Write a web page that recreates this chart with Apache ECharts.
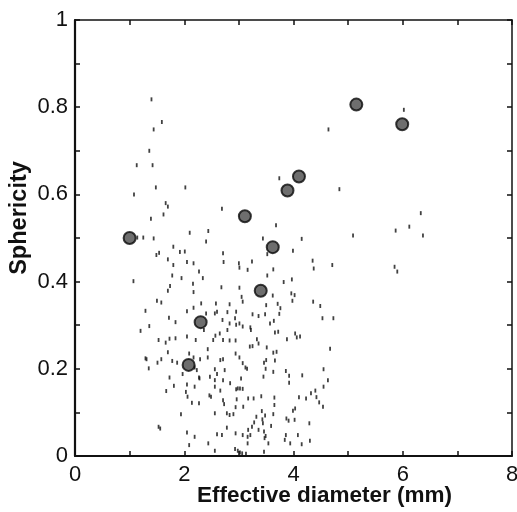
<!DOCTYPE html>
<html>
<head>
<meta charset="utf-8">
<script src="https://cdn.jsdelivr.net/npm/echarts@6/dist/echarts.min.js"></script>
<style>html,body{margin:0;padding:0;background:#fff}#c{width:517px;height:512px}</style>
</head>
<body>
<div id="c"></div>
<script>
var xTicks = [0, 2, 4, 6, 8];
var yTicks = [0, 0.2, 0.4, 0.6, 0.8, 1];
var xTitle = 'Effective diameter (mm)';
var yTitle = 'Sphericity';

var sphereX = [1.00, 2.08, 2.30, 3.11, 3.40, 3.62, 3.89, 4.10, 5.15, 5.99];
var sphereY = [0.50, 0.209, 0.307, 0.550, 0.379, 0.479, 0.609, 0.641, 0.806, 0.761];

var dashPairs = [
[1.40,0.818],[1.59,0.766],[1.44,0.749],[1.36,0.700],[1.42,0.667],[1.13,0.667],[1.08,0.600],[2.02,0.616],
[1.48,0.616],[1.66,0.580],[1.70,0.572],[1.62,0.554],[1.39,0.544],[2.69,0.567],[2.10,0.512],[2.44,0.516],
[2.40,0.492],[1.14,0.501],[1.25,0.501],[1.44,0.499],[3.74,0.637],[3.68,0.529],[3.44,0.499],[4.64,0.749],
[4.84,0.612],[5.09,0.506],[5.87,0.517],[6.12,0.526],[6.33,0.557],[6.37,0.506],[5.85,0.434],[5.90,0.423],
[6.02,0.794],[4.71,0.438],[3.99,0.471],[4.15,0.498],[4.35,0.448],[4.37,0.430],[3.97,0.405],[3.82,0.399],
[3.63,0.428],[3.52,0.414],[3.52,0.463],[1.07,0.401],[1.80,0.480],[1.54,0.466],[1.49,0.461],[1.92,0.468],
[2.01,0.469],[1.70,0.451],[1.80,0.438],[2.05,0.445],[2.17,0.442],[1.95,0.408],[1.78,0.414],[2.27,0.423],
[2.34,0.408],[2.16,0.395],[2.17,0.376],[1.74,0.390],[1.70,0.379],[1.58,0.352],[1.50,0.356],[1.29,0.333],
[1.36,0.298],[1.20,0.287],[1.72,0.317],[1.84,0.307],[2.05,0.332],[2.17,0.340],[2.31,0.350],[2.40,0.327],
[2.36,0.289],[2.05,0.274],[2.21,0.266],[1.84,0.270],[1.73,0.269],[1.66,0.260],[1.53,0.266],[1.70,0.238],
[1.58,0.222],[1.51,0.214],[1.31,0.222],[1.35,0.201],[1.78,0.218],[1.87,0.214],[1.97,0.188],[1.73,0.180],
[1.81,0.161],[1.67,0.149],[1.94,0.096],[1.56,0.063],[2.05,0.164],[2.03,0.147],[2.06,0.136],[2.14,0.122],
[2.27,0.121],[2.19,0.159],[2.28,0.178],[2.23,0.197],[2.09,0.235],[2.17,0.226],[2.29,0.222],[2.43,0.245],
[2.43,0.226],[2.53,0.266],[2.57,0.276],[2.56,0.327],[2.58,0.350],[2.60,0.331],[2.68,0.387],[2.72,0.445],
[2.71,0.465],[3.00,0.442],[3.01,0.432],[3.01,0.386],[3.16,0.427],[3.24,0.446],[3.05,0.365],[3.07,0.354],
[3.25,0.325],[3.36,0.321],[3.48,0.325],[3.57,0.304],[3.64,0.310],[3.50,0.346],[3.62,0.368],[3.71,0.349],
[3.76,0.339],[3.74,0.326],[3.96,0.373],[4.02,0.369],[3.98,0.356],[4.03,0.281],[4.06,0.272],[4.12,0.274],
[4.36,0.354],[4.49,0.344],[4.53,0.316],[4.73,0.316],[4.67,0.246],[4.63,0.174],[4.55,0.199],[4.55,0.159],
[4.40,0.150],[4.32,0.144],[4.42,0.135],[4.47,0.123],[4.54,0.113],[4.16,0.185],[4.23,0.132],[4.10,0.135],
[4.03,0.109],[3.99,0.104],[4.02,0.083],[3.87,0.086],[3.91,0.081],[4.29,0.075],[4.08,0.048],[3.94,0.029],
[3.84,0.037],[4.15,0.027],[4.30,0.035],[3.86,0.048],[3.86,0.195],[3.92,0.184],[3.92,0.168],[3.88,0.268],
[3.72,0.285],[3.66,0.283],[3.69,0.239],[3.63,0.237],[3.66,0.219],[3.63,0.193],[3.65,0.134],[3.65,0.117],
[3.63,0.096],[3.59,0.069],[3.54,0.029],[3.47,0.041],[3.46,0.010],[3.49,0.046],[3.46,0.056],[3.44,0.075],
[3.48,0.093],[3.43,0.084],[3.42,0.103],[3.45,0.182],[3.49,0.200],[3.46,0.214],[3.50,0.220],[3.51,0.249],
[3.36,0.258],[3.33,0.268],[3.25,0.252],[3.20,0.251],[3.22,0.289],[3.21,0.295],[3.07,0.297],[3.01,0.304],
[2.95,0.301],[2.93,0.316],[2.95,0.331],[2.83,0.348],[2.79,0.330],[2.83,0.304],[2.79,0.289],[2.70,0.312],
[2.65,0.281],[2.71,0.266],[2.83,0.265],[2.94,0.265],[2.94,0.235],[3.01,0.226],[3.07,0.213],[3.12,0.203],
[3.15,0.200],[3.04,0.178],[3.02,0.155],[3.07,0.154],[2.98,0.155],[2.95,0.153],[2.96,0.130],[3.17,0.132],
[3.27,0.132],[3.41,0.137],[3.08,0.113],[2.94,0.112],[2.90,0.096],[2.83,0.094],[2.78,0.098],[2.73,0.119],
[2.71,0.128],[2.66,0.150],[2.71,0.174],[2.84,0.167],[2.74,0.197],[2.71,0.222],[2.66,0.220],[2.56,0.199],
[2.60,0.188],[2.56,0.174],[2.56,0.159],[2.47,0.182],[2.46,0.139],[2.49,0.136],[2.56,0.098],[2.60,0.050],
[2.69,0.048],[2.78,0.065],[2.94,0.052],[3.07,0.048],[3.17,0.060],[3.21,0.048],[3.24,0.067],[3.28,0.077],
[3.32,0.090],[3.36,0.060],[3.16,0.029],[3.16,0.044],[2.93,0.016],[2.98,0.012],[3.02,0.008],[3.13,0.005],
[3.06,0.006],[2.56,0.012],[2.44,0.029],[2.19,0.044],[2.05,0.054],[2.09,0.025],[1.53,0.067],[1.29,0.224],
[2.19,0.203],[2.27,0.180]
];
var dashX = dashPairs.map(function(p){return p[0];});
var dashY = dashPairs.map(function(p){return p[1];});

function zip(a, b){ return a.map(function(v, i){ return [v, b[i]]; }); }

var font = 'Liberation Sans';
var chart = echarts.init(document.getElementById('c'), null, {renderer: 'canvas'});
var axisCommon = {
  axisTick: {show: true, inside: true, length: 5, lineStyle: {color: '#111', width: 1.5}},
  splitLine: {show: false}
};
chart.setOption({
  animation: false,
  backgroundColor: '#fff',
  grid: {left: 75, right: 5, top: 20, bottom: 56, containLabel: false, outerBoundsMode: 'none'},
  xAxis: [
    Object.assign({
      type: 'value', min: 0, max: 8, interval: 1, position: 'bottom',
      axisLine: {show: true, onZero: false, lineStyle: {color: '#111', width: 2}},
      axisLabel: {show: true, margin: 8, color: '#111', fontFamily: font, fontSize: 22,
        formatter: function(v){ return xTicks.indexOf(v) >= 0 ? String(v) : ''; }},
      name: xTitle, nameLocation: 'middle', nameGap: 28, nameMoveOverlap: false,
      nameTextStyle: {fontFamily: font, fontWeight: 'bold', fontSize: 22.5, color: '#111', padding: [0,0,0,62]}
    }, axisCommon),
    Object.assign({
      type: 'value', min: 0, max: 8, interval: 1, position: 'top',
      axisLine: {show: true, onZero: false, lineStyle: {color: '#111', width: 1.5}},
      axisLabel: {show: false}
    }, axisCommon)
  ],
  yAxis: [
    Object.assign({
      type: 'value', min: 0, max: 1, interval: 0.1, position: 'left',
      axisLine: {show: true, onZero: false, lineStyle: {color: '#111', width: 2.2}},
      axisLabel: {show: true, margin: 7, color: '#111', fontFamily: font, fontSize: 22,
        formatter: function(v){
          var r = Math.round(v * 10) / 10;
          for (var i = 0; i < yTicks.length; i++) if (Math.abs(yTicks[i] - r) < 1e-6) return String(yTicks[i]);
          return '';
        }},
      name: yTitle, nameLocation: 'middle', nameGap: 43, nameRotate: 90, nameMoveOverlap: false,
      nameTextStyle: {fontFamily: font, fontWeight: 'bold', fontSize: 23.5, color: '#111', padding: [0,0,0,40]}
    }, axisCommon),
    Object.assign({
      type: 'value', min: 0, max: 1, interval: 0.1, position: 'right',
      axisLine: {show: true, onZero: false, lineStyle: {color: '#111', width: 1.5}},
      axisLabel: {show: false}
    }, axisCommon)
  ],
  series: [
    {
      type: 'scatter', data: zip(dashX, dashY), symbol: 'rect', symbolSize: [1.8, 4],
      itemStyle: {color: '#111'}, silent: true
    },
    {
      type: 'scatter', data: zip(sphereX, sphereY), symbol: 'circle', symbolSize: 12,
      itemStyle: {color: '#4a4a4a', borderColor: '#0a0a0a', borderWidth: 2}, silent: true
    }
  ]
});
</script>
</body>
</html>
